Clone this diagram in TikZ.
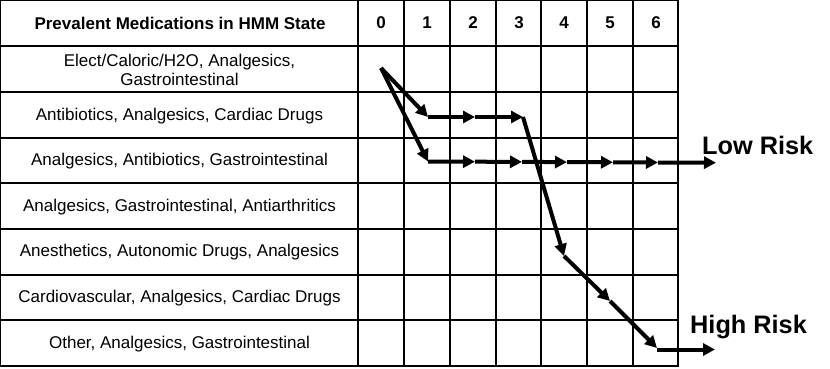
\documentclass[tikz,border=0pt]{standalone}
\usepackage{fontspec}
\setmainfont{Liberation Sans}
\usetikzlibrary{arrows.meta}
\begin{document}
\begin{tikzpicture}[x=1pt,y=-1pt,
  gridline/.style={draw=black,line width=1.1pt},
  lbl/.style={font=\fontsize{17}{19.5}\selectfont,align=center,inner sep=0pt},
  hdr/.style={font=\fontsize{17}{19.5}\selectfont\bfseries,inner sep=0pt},
  risk/.style={font=\fontsize{25.3}{28}\selectfont\bfseries,inner sep=0pt,anchor=base west},
  flow/.style={line width=4pt,-{Triangle[length=12pt,width=12pt]}}]
\useasboundingbox (0,0) rectangle (830,369);
% grid
\foreach \x in {358,404,450,496,541,587,633}
  \draw[gridline] (\x,0.7) -- (\x,366);
\foreach \y in {46,92,138,183,229,275,320}
  \draw[gridline] (0.7,\y) -- (678,\y);
\draw[gridline] (0.7,0.7) rectangle (678,366);
% header
\node[hdr] (h) at (180,23) {Prevalent Medications in HMM State};
\foreach \n/\x in {0/381,1/427,2/473,3/519,4/564,5/610,6/656}
  \node[hdr] (c\n) at (\x,23) {\n};
% row labels
\node[lbl] (r1) at (179.5,70) {Elect/Caloric/H2O, Analgesics,\\Gastrointestinal};
\node[lbl] (r2) at (179.5,116) {Antibiotics, Analgesics, Cardiac Drugs};
\node[lbl] (r3) at (179.5,161) {Analgesics, Antibiotics, Gastrointestinal};
\node[lbl] (r4) at (179.5,207) {Analgesics, Gastrointestinal, Antiarthritics};
\node[lbl] (r5) at (179.5,252) {Anesthetics, Autonomic Drugs, Analgesics};
\node[lbl] (r6) at (179.5,298) {Cardiovascular, Analgesics, Cardiac Drugs};
\node[lbl] (r7) at (179.5,344) {Other, Analgesics, Gastrointestinal};
% path points
\coordinate (s) at (381,68);
\coordinate (a1) at (428,117);
\coordinate (a2) at (475,117);
\coordinate (a3) at (523,117);
\coordinate (b1) at (428,161.5);
\coordinate (b2) at (475,161.7);
\coordinate (b3) at (522,161.9);
\coordinate (b4) at (567,162.1);
\coordinate (b5) at (613,162.3);
\coordinate (b6) at (658,162.5);
\coordinate (b7) at (716,162.7);
\coordinate (d1) at (564,256);
\coordinate (d2) at (610,301);
\coordinate (d3) at (657,348);
\coordinate (d4) at (715,349.5);
\coordinate (d3h) at (657,349.5);
% arrows
\draw[flow] (s) -- (a1);
\draw[flow] (a1) -- (a2);
\draw[flow] (a2) -- (a3);
\draw[flow] (s) -- (b1);
\draw[flow] (b1) -- (b2);
\draw[flow] (b2) -- (b3);
\draw[flow] (b3) -- (b4);
\draw[flow] (b4) -- (b5);
\draw[flow] (b5) -- (b6);
\draw[flow] (b6) -- (b7);
\draw[flow] (a3) -- (d1);
\draw[flow] (d1) -- (d2);
\draw[flow] (d2) -- (d3);
\draw[flow] (d3h) -- (d4);
% risk labels
\node[risk] (low) at (702,154.5) {Low Risk};
\node[risk] (high) at (690,333) {High Risk};
\end{tikzpicture}
\end{document}
